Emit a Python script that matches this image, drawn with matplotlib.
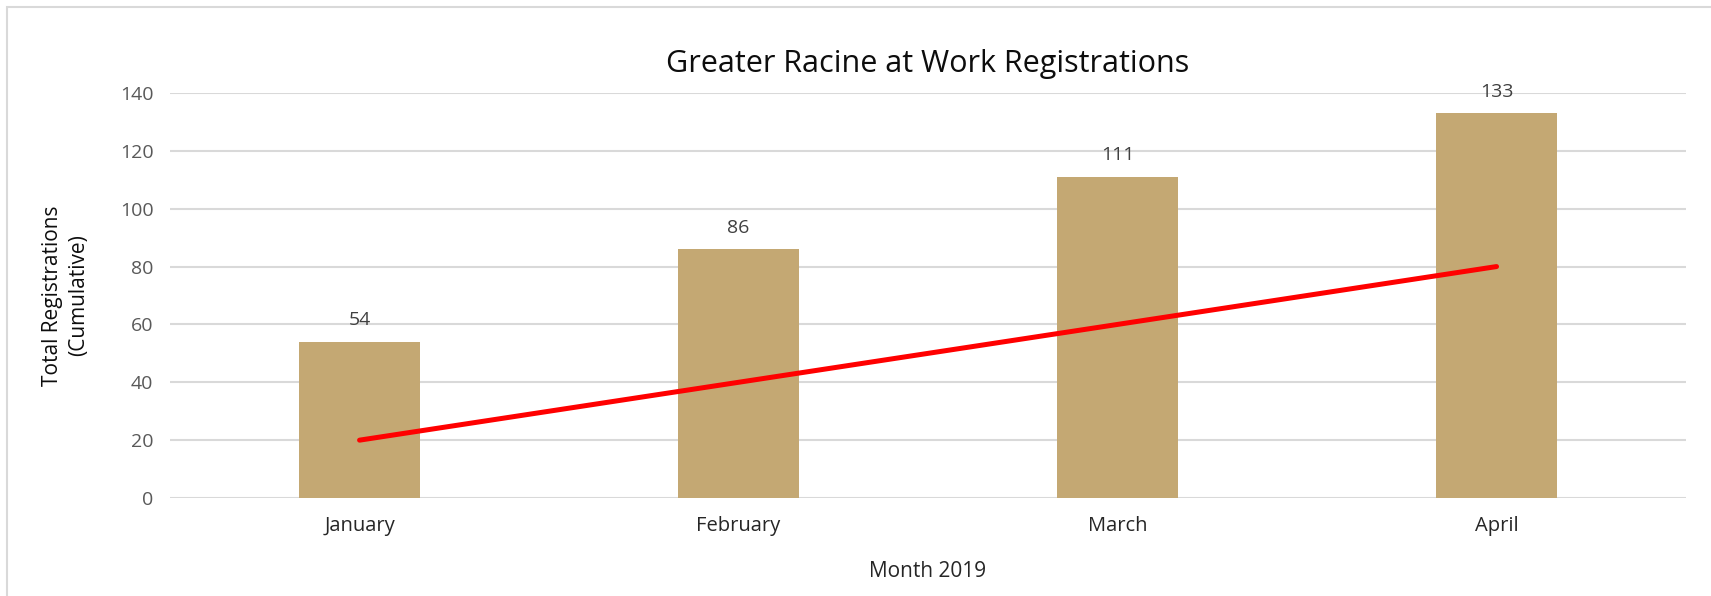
import matplotlib.pyplot as plt
from matplotlib.patches import Rectangle

months = ["January", "February", "March", "April"]
registrations = [54, 86, 111, 133]
target = [20, 40, 60, 80]

bar_color = "#C4A873"
grid_color = "#D9D9D9"

plt.rcParams['font.family'] = ['Open Sans', 'DejaVu Sans']

fig = plt.figure(figsize=(17.11, 5.96), dpi=100)
ax = fig.add_axes([0.0994, 0.1644, 0.886, 0.6796])

x = range(len(months))
bars = ax.bar(x, registrations, width=0.32, color=bar_color, zorder=2)
ax.plot(x, target, color="#FF0000", linewidth=3.6, solid_capstyle="round", zorder=3)

for b, v in zip(bars, registrations):
    ax.annotate(str(v), (b.get_x() + b.get_width() / 2, v), xytext=(0, 9),
                textcoords="offset points", ha="center", va="bottom",
                fontsize=14, color="#404040")

ax.set_xlim(-0.5, len(months) - 0.5)
ax.set_ylim(0, 140)
ax.set_yticks(range(0, 141, 20))
ax.set_xticks(list(x))
ax.set_xticklabels(months, fontsize=14.5, color="#262626")
ax.tick_params(axis="y", labelsize=14, labelcolor="#595959", length=0, pad=12)
ax.tick_params(axis="x", length=0, pad=13)
ax.grid(axis="y", color=grid_color, linewidth=1.5, zorder=0)
ax.set_axisbelow(True)
for s in ax.spines.values():
    s.set_visible(False)

ax.set_title("Greater Racine at Work Registrations", fontsize=22, color="#0D0D0D", pad=15)
ax.set_xlabel("Month 2019", fontsize=15, color="#262626", labelpad=18)
ax.set_ylabel("Total Registrations\n(Cumulative)", fontsize=15, color="#0D0D0D",
              labelpad=22, linespacing=1.35)

# chart border (Excel chart area frame)
fig.patches.append(Rectangle((7 / 1711, -0.1), 1.2, 1 - 7 / 596 + 0.1, transform=fig.transFigure,
                             fill=False, edgecolor=grid_color, linewidth=1.5))

fig.savefig("out.png", dpi=100)
